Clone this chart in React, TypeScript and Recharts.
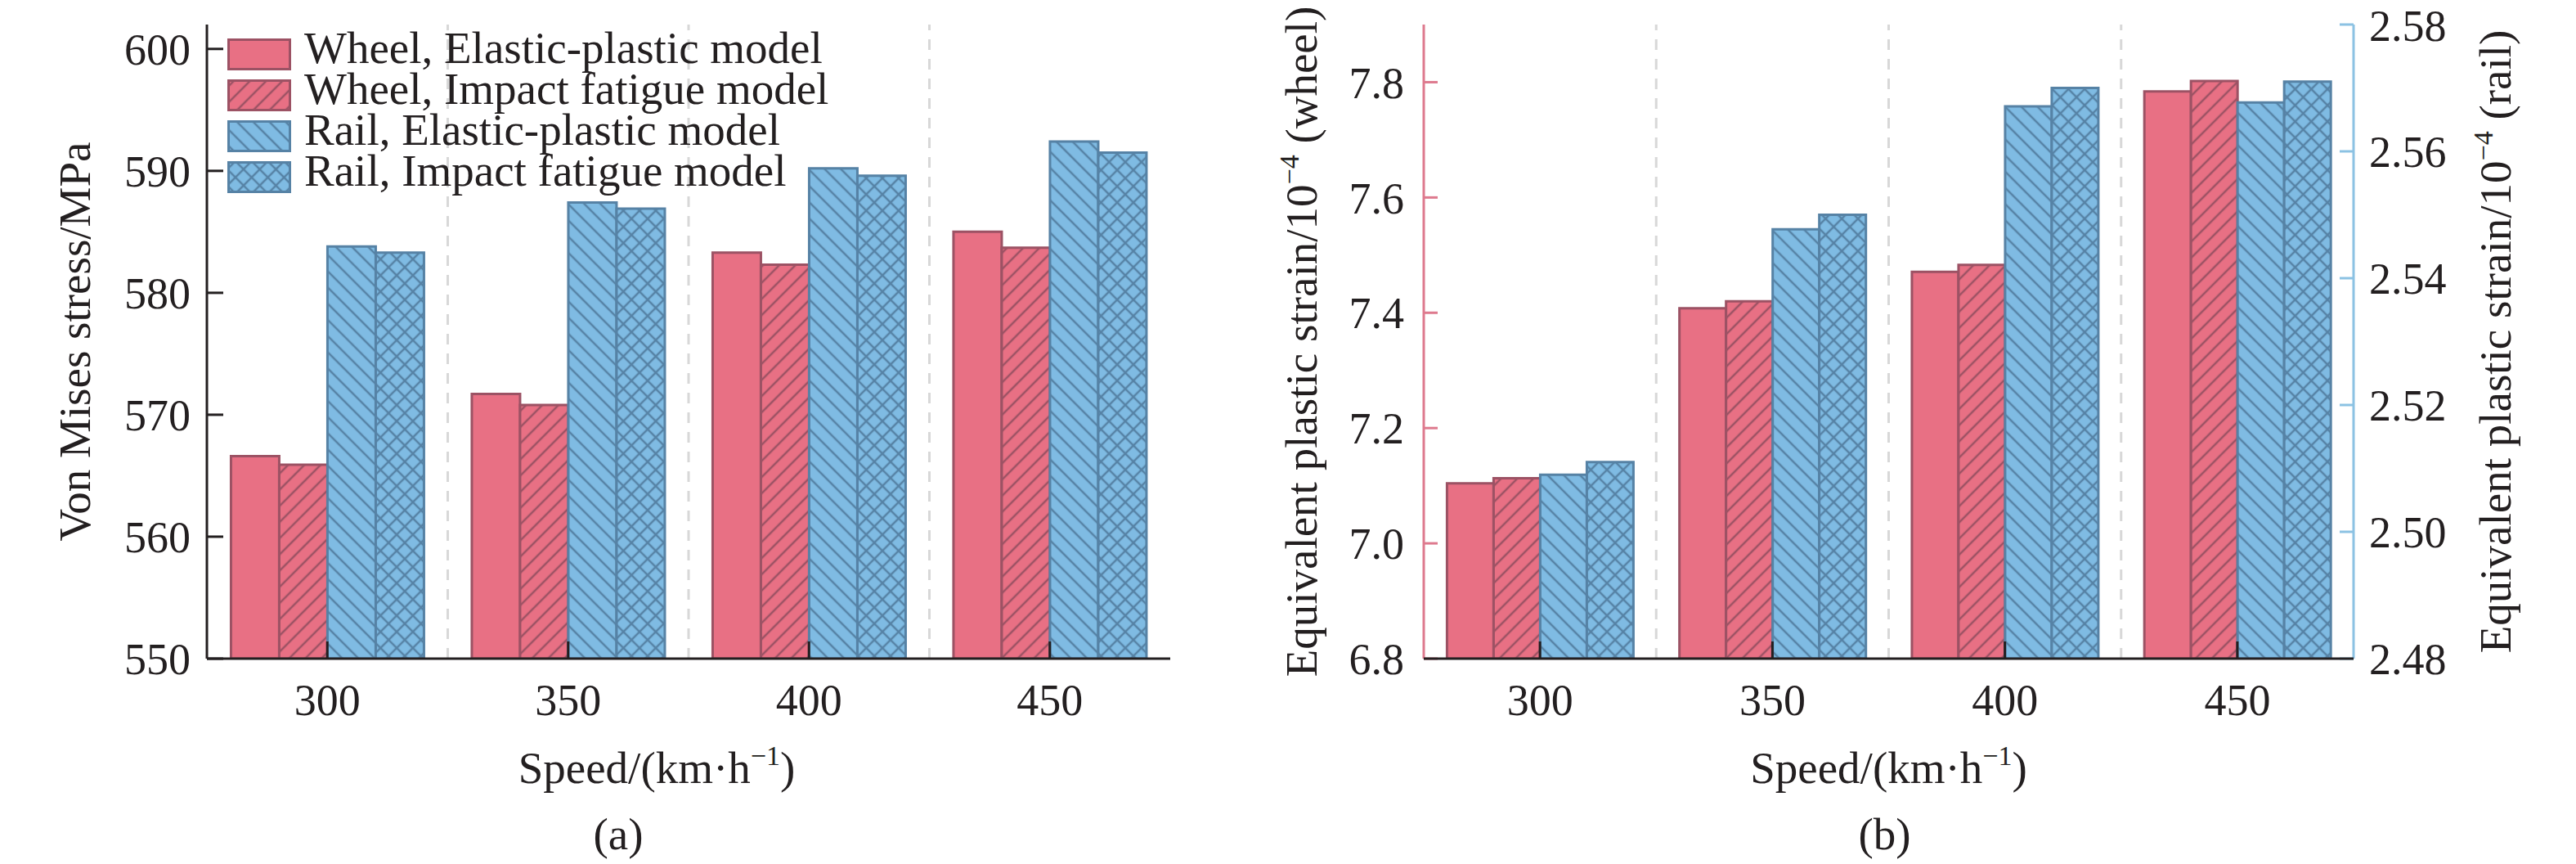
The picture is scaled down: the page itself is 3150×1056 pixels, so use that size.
import { BarChart, Bar, XAxis, YAxis, Legend, ReferenceLine } from 'recharts';

const speeds = ['300', '350', '400', '450'];
// dashed separators sit at the right edge of these categories
const separatorAfter = ['300', '350', '400'];

const seriesNames = [
  'Wheel, Elastic-plastic model',
  'Wheel, Impact fatigue model',
  'Rail, Elastic-plastic model',
  'Rail, Impact fatigue model',
];

// (a) Von Mises stress / MPa
const wheelElasticStress = [566.6, 571.7, 583.3, 585.0];
const wheelImpactStress = [565.9, 570.8, 582.3, 583.7];
const railElasticStress = [583.8, 587.4, 590.2, 592.4];
const railImpactStress = [583.3, 586.9, 589.6, 591.5];

// (b) equivalent plastic strain / 1e-4
const wheelElasticStrain = [7.104, 7.408, 7.471, 7.784];
const wheelImpactStrain = [7.113, 7.42, 7.483, 7.802];
const railElasticStrain = [2.509, 2.5477, 2.5671, 2.5677];
const railImpactStrain = [2.511, 2.55, 2.57, 2.571];

const stressDomain = [550, 602];
const stressTicks = [550, 560, 570, 580, 590, 600];
const wheelDomain = [6.8, 7.9];
const wheelTicks = [6.8, 7.0, 7.2, 7.4, 7.6, 7.8];
const railDomain = [2.48, 2.58];
const railTicks = [2.48, 2.5, 2.52, 2.54, 2.56, 2.58];

const stressData = speeds.map((speed, i) => ({
  speed,
  wheelElastic: wheelElasticStress[i],
  wheelImpact: wheelImpactStress[i],
  railElastic: railElasticStress[i],
  railImpact: railImpactStress[i],
}));

const strainData = speeds.map((speed, i) => ({
  speed,
  wheelElastic: wheelElasticStrain[i],
  wheelImpact: wheelImpactStrain[i],
  railElastic: railElasticStrain[i],
  railImpact: railImpactStrain[i],
}));

const ink = '#231f20';
const pink = '#e87084';
const pinkEdge = '#9c5264';
const blue = '#7fbbe3';
const blueEdge = '#5682a5';
const pinkAxis = '#de7a8e';
const blueAxis = '#8cc2e3';
const sepGrey = '#d8d8d8';
const serif = '"Liberation Serif", "Times New Roman", serif';

const tickFont = { fontSize: 54, fontFamily: serif, fill: ink };
const inkLine = { stroke: ink, strokeWidth: 3 };

function hatchDefs(prefix: string) {
  return (
    <defs>
      <pattern id={`${prefix}-wheel`} patternUnits="userSpaceOnUse" width={14} height={14} patternTransform="rotate(45)">
        <rect width={14} height={14} fill={pink} />
        <line x1={7} y1={0} x2={7} y2={14} stroke={pinkEdge} strokeWidth={2.5} />
      </pattern>
      <pattern id={`${prefix}-rail`} patternUnits="userSpaceOnUse" width={14} height={14} patternTransform="rotate(-45)">
        <rect width={14} height={14} fill={blue} />
        <line x1={7} y1={0} x2={7} y2={14} stroke={blueEdge} strokeWidth={2.5} />
      </pattern>
      <pattern id={`${prefix}-cross`} patternUnits="userSpaceOnUse" width={14} height={14} patternTransform="rotate(45)">
        <rect width={14} height={14} fill={blue} />
        <line x1={7} y1={0} x2={7} y2={14} stroke={blueEdge} strokeWidth={2.5} />
        <line x1={0} y1={7} x2={14} y2={7} stroke={blueEdge} strokeWidth={2.5} />
      </pattern>
    </defs>
  );
}

const seriesStyle = (prefix: string) => [
  { key: 'wheelElastic', fill: pink, stroke: pinkEdge },
  { key: 'wheelImpact', fill: `url(#${prefix}-wheel)`, stroke: pinkEdge },
  { key: 'railElastic', fill: `url(#${prefix}-rail)`, stroke: blueEdge },
  { key: 'railImpact', fill: `url(#${prefix}-cross)`, stroke: blueEdge },
];

const stressLabel = ({ viewBox }: any) => (
  <text
    transform={`translate(${viewBox.x + 110},${viewBox.y + viewBox.height / 2}) rotate(-90)`}
    textAnchor="middle"
    fontSize={55}
    fontFamily={serif}
    fill={ink}
  >
    Von Mises stress/MPa
  </text>
);

const strainLabel = (side: string, dx: number) => ({ viewBox }: any) => (
  <text
    transform={`translate(${viewBox.x + dx},${viewBox.y + viewBox.height / 2}) rotate(-90)`}
    textAnchor="middle"
    fontSize={55}
    fontFamily={serif}
    fill={ink}
  >
    Equivalent plastic strain/10
    <tspan dy={-22} fontSize={34}>−4</tspan>
    <tspan dy={22}>{` (${side})`}</tspan>
  </text>
);

const speedLabel = (caption: string, labelDx: number, captionDx: number) => ({ viewBox }: any) => {
  const cx = viewBox.x + viewBox.width / 2;
  return (
    <g fontFamily={serif} fill={ink} fontSize={55}>
      <text x={cx + labelDx} y={viewBox.y + 152} textAnchor="middle">
        Speed/(km·h
        <tspan dy={-22} fontSize={34}>−1</tspan>
        <tspan dy={22}>)</tspan>
      </text>
      <text x={cx + captionDx} y={viewBox.y + 233} textAnchor="middle">
        {caption}
      </text>
    </g>
  );
};

// legend drawn in series order, not the library's sorted payload order
const renderLegend = () => {
  const styles = seriesStyle('a');
  return (
    <div style={{ fontFamily: serif, fontSize: 55, color: ink, lineHeight: '50px' }}>
      {seriesNames.map((name, i) => (
        <div key={name} style={{ display: 'flex', alignItems: 'flex-start', height: 50 }}>
          <svg width={78} height={39} style={{ marginTop: 13, marginRight: 16, flex: 'none' }}>
            <rect x={1.5} y={1.5} width={75} height={36} fill={styles[i].fill} stroke={styles[i].stroke} strokeWidth={3} />
          </svg>
          <div style={{ whiteSpace: 'nowrap', height: 50, overflow: 'visible' }}>{name}</div>
        </div>
      ))}
    </div>
  );
};

function StressChart() {
  const styles = seriesStyle('a');
  return (
    <BarChart
      width={1480}
      height={1056}
      data={stressData}
      margin={{ top: 30, right: 49, bottom: 191, left: 0 }}
      barCategoryGap="10%"
      barGap={0}
    >
      {hatchDefs('a')}
      {separatorAfter.map((s) => (
        <ReferenceLine key={s} x={s} position="end" stroke={sepGrey} strokeWidth={3} strokeDasharray="13 11" />
      ))}
      <YAxis
        domain={stressDomain}
        ticks={stressTicks}
        allowDataOverflow
        width={253}
        tickSize={-20}
        tickMargin={40}
        axisLine={inkLine}
        tickLine={inkLine}
        tick={tickFont}
        label={stressLabel}
      />
      <YAxis yAxisId="frame" orientation="right" type="number" domain={[0, 1]} width={0} tick={false} tickLine={false} axisLine={inkLine} />
      <XAxis xAxisId="top" orientation="top" dataKey="speed" height={0} tick={false} tickLine={false} axisLine={inkLine} />
      {styles.map((s, i) => (
        <Bar
          key={s.key}
          dataKey={s.key}
          name={seriesNames[i]}
          fill={s.fill}
          stroke={s.stroke}
          strokeWidth={3}
          isAnimationActive={false}
        />
      ))}
      <XAxis
        dataKey="speed"
        height={60}
        tickSize={-21}
        tickMargin={52}
        axisLine={inkLine}
        tickLine={inkLine}
        tick={tickFont}
        label={speedLabel('(a)', -39, -86)}
      />
      <Legend
        layout="horizontal"
        verticalAlign="middle"
        align="center"
        wrapperStyle={{ left: 278, top: 34, width: 'auto', height: 'auto' }}
        content={renderLegend}
      />
    </BarChart>
  );
}

function StrainChart() {
  const styles = seriesStyle('b');
  const axisIds = ['wheel', 'wheel', 'rail', 'rail'];
  return (
    <BarChart
      width={1670}
      height={1056}
      data={strainData}
      margin={{ top: 30, right: 0, bottom: 191, left: 0 }}
      barCategoryGap="10%"
      barGap={0}
    >
      {hatchDefs('b')}
      {separatorAfter.map((s) => (
        <ReferenceLine
          key={s}
          yAxisId="wheel"
          x={s}
          position="end"
          stroke={sepGrey}
          strokeWidth={3}
          strokeDasharray="13 11"
        />
      ))}
      <YAxis
        yAxisId="wheel"
        domain={wheelDomain}
        ticks={wheelTicks}
        allowDataOverflow
        width={261}
        tickSize={-17}
        tickMargin={41}
        axisLine={{ stroke: pinkAxis, strokeWidth: 3 }}
        tickLine={{ stroke: pinkAxis, strokeWidth: 3 }}
        tick={tickFont}
        tickFormatter={(v: number) => v.toFixed(1)}
        label={strainLabel('wheel', 130)}
      />
      <YAxis
        yAxisId="rail"
        orientation="right"
        domain={railDomain}
        ticks={railTicks}
        allowDataOverflow
        width={272}
        tickSize={-17}
        tickMargin={36}
        axisLine={{ stroke: blueAxis, strokeWidth: 3 }}
        tickLine={{ stroke: blueAxis, strokeWidth: 3 }}
        tick={{ ...tickFont, textAnchor: 'start' }}
        tickFormatter={(v: number) => v.toFixed(2)}
        label={strainLabel('rail', 192)}
      />
      <XAxis xAxisId="top" orientation="top" dataKey="speed" height={0} tick={false} tickLine={false} axisLine={inkLine} />
      {styles.map((s, i) => (
        <Bar
          key={s.key}
          yAxisId={axisIds[i]}
          dataKey={s.key}
          name={seriesNames[i]}
          fill={s.fill}
          stroke={s.stroke}
          strokeWidth={3}
          isAnimationActive={false}
        />
      ))}
      <XAxis
        dataKey="speed"
        height={60}
        tickSize={-21}
        tickMargin={52}
        axisLine={inkLine}
        tickLine={inkLine}
        tick={tickFont}
        label={speedLabel('(b)', 0, -5)}
      />
    </BarChart>
  );
}

export default function App() {
  return (
    <div style={{ position: 'absolute', left: 0, top: 0, width: 3150, height: 1056, background: '#fff' }}>
      <div style={{ position: 'absolute', left: 0, top: 0 }}>
        <StressChart />
      </div>
      <div style={{ position: 'absolute', left: 1480, top: 0 }}>
        <StrainChart />
      </div>
    </div>
  );
}
